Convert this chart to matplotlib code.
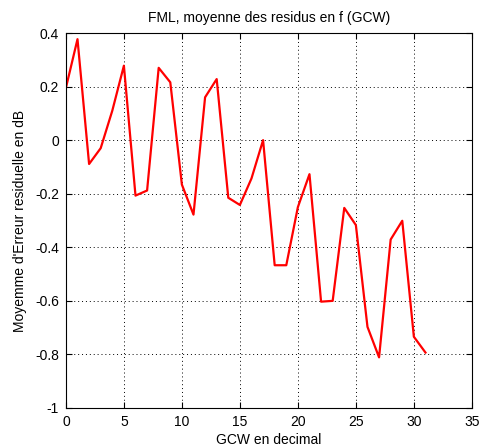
import numpy as np
import matplotlib
matplotlib.use('Agg')
import matplotlib.pyplot as plt

# GCW index and mean residual error (dB)
gcw = np.arange(32)
residus = [0.195, 0.377, -0.089, -0.03, 0.11, 0.278, -0.207, -0.188,
           0.27, 0.216, -0.166, -0.278, 0.16, 0.228, -0.215, -0.242,
           -0.143, 0.0, -0.467, -0.467, -0.25, -0.127, -0.603, -0.6,
           -0.253, -0.317, -0.697, -0.811, -0.371, -0.301, -0.734, -0.793]

xticks = [0, 5, 10, 15, 20, 25, 30, 35]
yticks = [-1, -0.8, -0.6, -0.4, -0.2, 0, 0.2, 0.4]
ytick_labels = ['-1', '-0.8', '-0.6', '-0.4', '-0.2', '0', '0.2', '0.4']

plt.rcParams['font.family'] = ['Liberation Sans', 'DejaVu Sans']
plt.rcParams['font.size'] = 10

fig = plt.figure(figsize=(4.81, 4.48), dpi=100)
ax = fig.add_axes([0.137, 0.0893, 0.844, 0.837])

ax.plot(gcw, residus, color='red', linewidth=1.6)

ax.set_xlim(0, 35)
ax.set_ylim(-1, 0.4)
ax.set_xticks(xticks)
ax.set_yticks(yticks)
ax.set_yticklabels(ytick_labels)
ax.grid(True, linestyle=(0, (1, 3)), color='black', linewidth=0.7)
ax.tick_params(direction='in', top=True, right=True, length=4, pad=5)
for s in ax.spines.values():
    s.set_linewidth(0.8)

ax.set_title('FML, moyenne des residus en f (GCW)', fontsize=10, pad=8)
ax.set_xlabel('GCW en decimal', fontsize=10, labelpad=3)
ax.set_ylabel("Moyemme d'Erreur residuelle en dB", fontsize=10, labelpad=6)

fig.savefig('out.png', dpi=100)
